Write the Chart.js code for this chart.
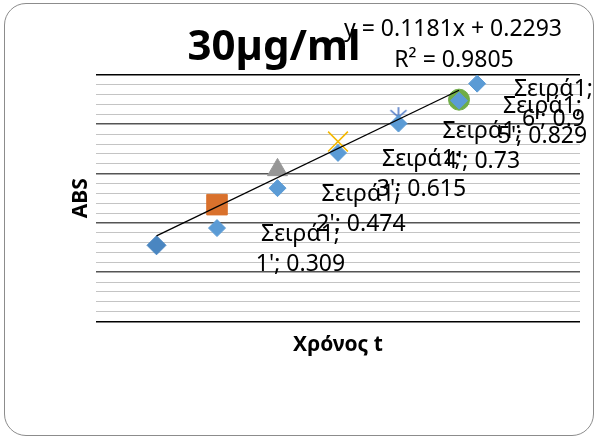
<!DOCTYPE html>
<html>
<head>
<meta charset="utf-8">
<title>30µg/ml</title>
<script src="https://cdn.jsdelivr.net/npm/chart.js@4.4.1/dist/chart.umd.min.js"></script>
<style>
  html, body { margin: 0; padding: 0; background: #fff; }
  #wrap { position: relative; width: 599px; height: 441px; }
  #frame { position: absolute; left: 4px; top: 3px; width: 588px; height: 431px;
           border: 1.5px solid #8c8c8c; border-radius: 22px; pointer-events: none; }
  canvas { position: absolute; left: 0; top: 0; }
</style>
</head>
<body>
<div id="wrap">
  <canvas id="chart" width="599" height="441"></canvas>
  <div id="frame"></div>
</div>
<script>
// data
const seriesName = 'Σειρά1';
const categories = ["1'", "2'", "3'", "4'", "5'", "6'"];
const absValues = [0.309, 0.474, 0.615, 0.73, 0.829, 0.9];
// second set of light blue diamonds (no labels)
const extraX = [2, 3, 4, 5, 6, 6.3];
const extraY = [0.379, 0.541, 0.684, 0.803, 0.896, 0.965];

const titleText = '30µg/ml';
const xTitle = 'Χρόνος t';
const yTitle = 'ABS';

const FONT = '"Noto Sans", "DejaVu Sans", sans-serif';

// least squares trendline over x = 1..n
function fitLine(ys) {
  const xs = ys.map((v, i) => i + 1);
  const n = ys.length;
  const mx = xs.reduce((a, b) => a + b, 0) / n;
  const my = ys.reduce((a, b) => a + b, 0) / n;
  let sxy = 0, sxx = 0, stot = 0;
  xs.forEach((x, i) => {
    sxy += (x - mx) * (ys[i] - my);
    sxx += (x - mx) * (x - mx);
    stot += (ys[i] - my) * (ys[i] - my);
  });
  const slope = sxy / sxx;
  const icpt = my - slope * mx;
  let sres = 0;
  xs.forEach((x, i) => { const d = ys[i] - (slope * x + icpt); sres += d * d; });
  return { slope, icpt, r2: 1 - sres / stot, x0: xs[0], x1: xs[n - 1] };
}
const fit = fitLine(absValues);

// Excel-like star marker (vertical bar + X)
function starMarker(color) {
  const c = document.createElement('canvas');
  c.width = 22; c.height = 22;
  const g = c.getContext('2d');
  g.strokeStyle = color; g.lineWidth = 1.5;
  g.beginPath();
  g.moveTo(11, 1); g.lineTo(11, 21);
  g.moveTo(3, 4); g.lineTo(19, 18);
  g.moveTo(19, 4); g.lineTo(3, 18);
  g.stroke();
  return c;
}

const pointColors = ['#4A86C1', '#D9712C', '#969696', '#F5B800', '#4472C4', '#70AD47'];
const pointStyles = ['rectRot', 'rect', 'triangle', 'crossRot', starMarker('#4472C4'), 'circle'];
const pointSizes = [9.5, 14.5, 11.5, 14, 10, 10.5];

const labelPlugin = {
  id: 'excelText',
  afterDatasetsDraw(chart) {
    const ctx = chart.ctx;
    ctx.save();
    ctx.fillStyle = '#000';
    ctx.font = '23px ' + FONT;
    ctx.textAlign = 'center';
    ctx.textBaseline = 'alphabetic';
    chart.getDatasetMeta(2).data.forEach((pt, i) => {
      const lines = [seriesName + ';', categories[i] + '; ' + absValues[i]];
      const w = Math.max(...lines.map(l => ctx.measureText(l).width));
      const cx = Math.min(pt.x + 144, 593 - w / 2);
      ctx.fillText(lines[0], cx, pt.y - 4);
      ctx.fillText(lines[1], cx, pt.y + 26);
    });
    ctx.restore();
  },
  afterDraw(chart) {
    const ctx = chart.ctx;
    const area = chart.chartArea;
    ctx.save();
    ctx.fillStyle = '#000';
    ctx.textAlign = 'center';
    ctx.textBaseline = 'alphabetic';
    ctx.font = 'bold 42px ' + FONT;
    ctx.fillText(titleText, 274, 60);
    ctx.font = '23px ' + FONT;
    ctx.fillText('y = ' + fit.slope.toFixed(4) + 'x + ' + fit.icpt.toFixed(4), 453, 36);
    ctx.fillText('R² = ' + fit.r2.toFixed(4), 454, 67);
    ctx.font = 'bold 21px ' + FONT;
    ctx.fillText(xTitle, (area.left + area.right) / 2, 351);
    ctx.translate(87, (area.top + area.bottom) / 2);
    ctx.rotate(-Math.PI / 2);
    ctx.fillText(yTitle, 0, 0);
    ctx.restore();
  }
};

const ctx = document.getElementById('chart').getContext('2d');
new Chart(ctx, {
  type: 'scatter',
  data: {
    datasets: [
      {
        label: 'trend',
        type: 'line',
        data: [
          { x: fit.x0, y: fit.slope * fit.x0 + fit.icpt },
          { x: fit.x1, y: fit.slope * fit.x1 + fit.icpt }
        ],
        showLine: true,
        borderColor: '#000',
        borderWidth: 1.3,
        pointRadius: 0,
        fill: false,
        order: 0
      },
      {
        label: 'extra',
        data: extraX.map((x, i) => ({ x: x, y: extraY[i] })),
        pointStyle: 'rectRot',
        pointRadius: 8.5,
        backgroundColor: '#5B9BD5',
        borderColor: '#5B9BD5',
        borderWidth: 1,
        order: 1
      },
      {
        label: seriesName,
        data: absValues.map((v, i) => ({ x: i + 1, y: v })),
        pointStyle: pointStyles,
        pointRadius: pointSizes,
        backgroundColor: pointColors,
        borderColor: pointColors,
        borderWidth: [1, 1, 1, 1.6, 1, 1],
        order: 2
      }
    ]
  },
  options: {
    responsive: false,
    animation: false,
    devicePixelRatio: 1,
    layout: { padding: { left: 96, right: 19, top: 75, bottom: 119.5 } },
    plugins: {
      legend: { display: false },
      tooltip: { enabled: false }
    },
    scales: {
      x: { type: 'linear', display: false, min: 0, max: 8 },
      y: {
        min: 0,
        max: 1,
        ticks: { display: false, stepSize: 0.04, maxTicksLimit: 30 },
        border: { display: false },
        grid: {
          drawTicks: false,
          color: c => {
            const k = Math.round(c.tick.value / 0.04);
            if (k === 0 || k === 25) return '#000';
            return k % 5 === 0 ? '#555555' : '#c4c4c4';
          },
          lineWidth: c => Math.round(c.tick.value / 0.04) % 5 === 0 ? 1.6 : 1
        }
      }
    }
  },
  plugins: [labelPlugin]
});
</script>
</body>
</html>
